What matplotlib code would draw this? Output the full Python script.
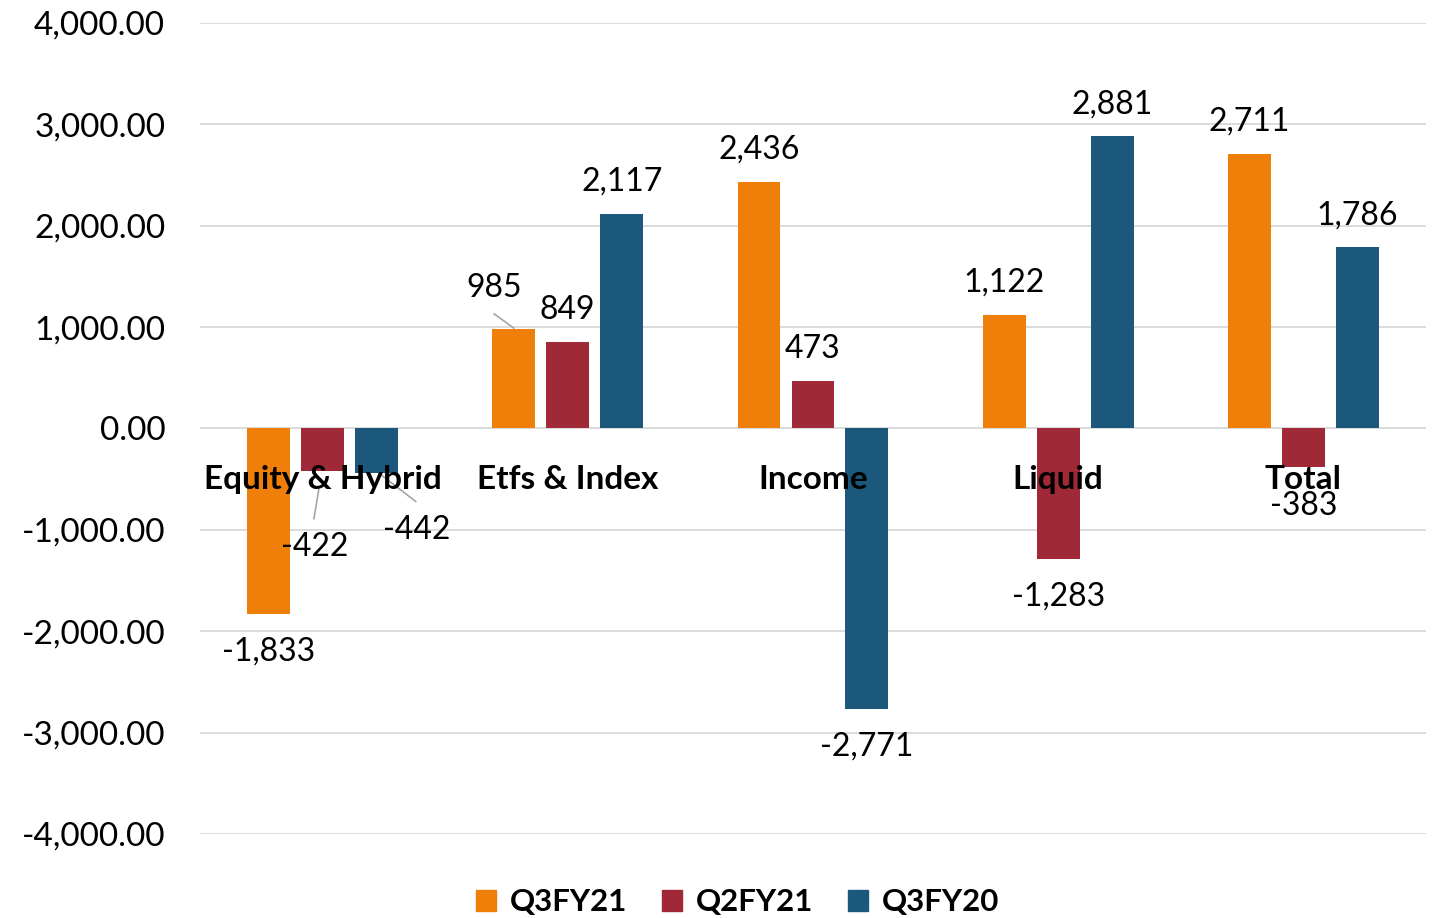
import matplotlib.pyplot as plt
import numpy as np
from matplotlib.patches import Patch

plt.rcParams['font.family'] = ['Lato', 'DejaVu Sans']

categories = ['Equity & Hybrid', 'Etfs & Index', 'Income', 'Liquid', 'Total']
series_names = ['Q3FY21', 'Q2FY21', 'Q3FY20']
q3fy21 = [-1833, 985, 2436, 1122, 2711]
q2fy21 = [-422, 849, 473, -1283, -383]
q3fy20 = [-442, 2117, -2771, 2881, 1786]
colors = ['#F07F09', '#9F2936', '#1B587C']

fig = plt.figure(figsize=(14.38, 9.18), dpi=100)
ax = fig.add_axes([0.139, 0.0915, 0.8527, 0.8835])

x = np.arange(len(categories))
width = 0.175
offsets = [-0.22, 0.0, 0.22]
all_series = [q3fy21, q2fy21, q3fy20]

# labels moved by hand: (category, series) -> label x, label y, leader line (x0, y0, x1, y1) or None
moved = {(0, 1): (-0.03, -1170, (-0.035, -890, -0.015, -600)),
         (0, 2): (0.385, -1000, (0.38, -720, 0.24, -460)),
         (1, 0): (0.70, 1390, (0.70, 1130, 0.78, 990)),
         (4, 1): (4.0, -765, None)}

for si, (vals, off, col) in enumerate(zip(all_series, offsets, colors)):
    bars = ax.bar(x + off, vals, width, color=col, zorder=3)
    for ci, (b, v) in enumerate(zip(bars, vals)):
        cx = b.get_x() + b.get_width() / 2
        txt = f'{v:,}'
        if (ci, si) in moved:
            lx, ly, leader = moved[(ci, si)]
            ax.text(lx, ly, txt, ha='center', va='center', fontsize=23, zorder=5)
            if leader:
                ax.plot([leader[0], leader[2]], [leader[1], leader[3]],
                        color='#A6A6A6', lw=1.2, zorder=4)
        else:
            dy = 23 if v >= 0 else -27
            ax.annotate(txt, (cx, v), xytext=(0, dy), textcoords='offset points',
                        ha='center', va='center', fontsize=23, zorder=5)

# category labels sit just under the zero line
for ci, name in enumerate(categories):
    ax.text(ci, -505, name, ha='center', va='center', fontsize=24,
            fontweight='bold', zorder=6)

ax.set_xlim(-0.5, 4.5)
ax.set_ylim(-4000, 4000)
ax.set_yticks(np.arange(-4000, 4001, 1000))
ax.set_yticklabels([f'{t:,.2f}' for t in np.arange(-4000, 4001, 1000)], fontsize=24)
ax.set_xticks([])
ax.tick_params(axis='y', length=0, pad=25)
ax.grid(axis='y', color='#D9D9D9', lw=1.3, zorder=0)
for s in ax.spines.values():
    s.set_visible(False)

handles = [Patch(color=c, label=n) for c, n in zip(colors, series_names)]
fig.legend(handles=handles, loc='center', bbox_to_anchor=(0.513, 0.017), ncol=3,
           frameon=False, prop={'size': 22.5, 'weight': 'bold'},
           handlelength=0.65, handleheight=0.65, handletextpad=0.45, columnspacing=1.1)

fig.savefig('out.png', dpi=100)
